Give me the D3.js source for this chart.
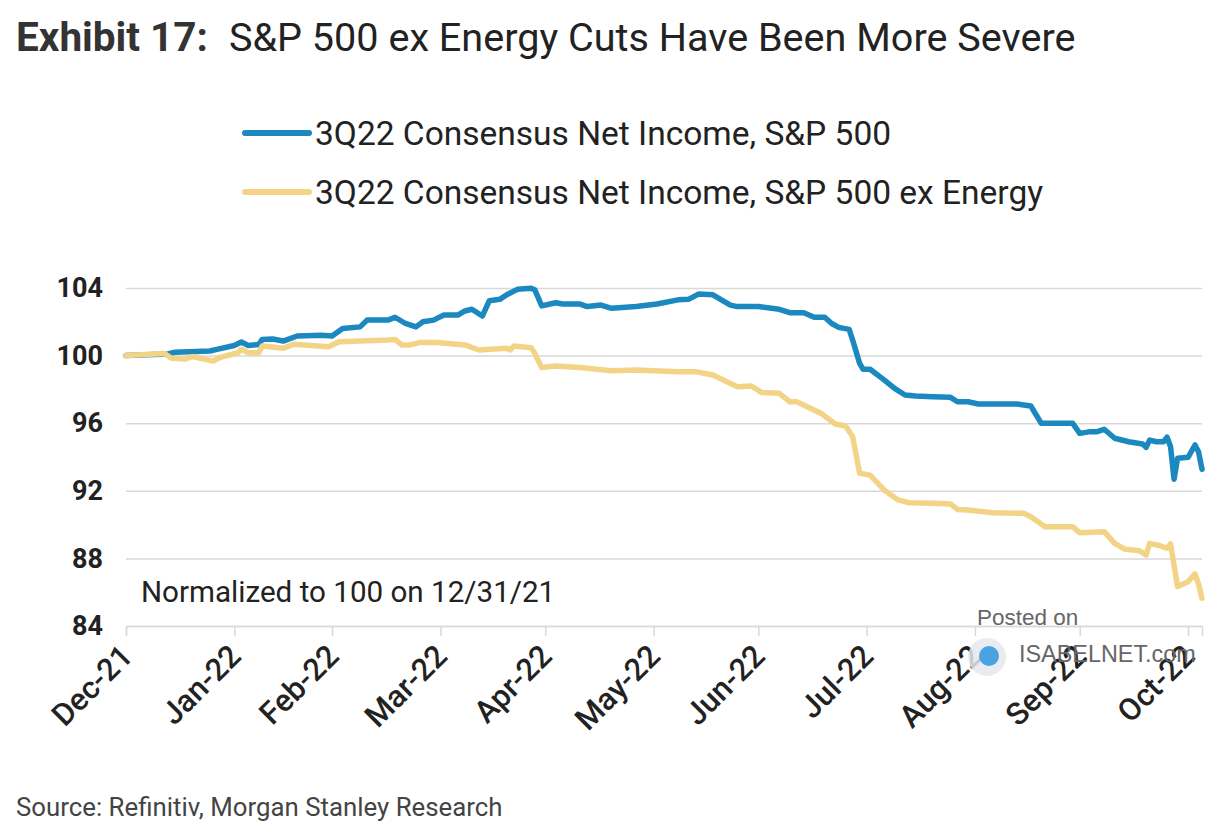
<!DOCTYPE html>
<html>
<head>
<meta charset="utf-8">
<script src="https://cdn.jsdelivr.net/npm/d3@7"></script>
<style>
  html, body { margin: 0; padding: 0; background: #fff; }
  svg { display: block; font-family: Roboto, "Liberation Sans", sans-serif; }
</style>
</head>
<body>
<svg id="chart" width="1223" height="840"></svg>
<script>
// ---------------- DATA ----------------
const titleBold = "Exhibit 17:";
const titleRest = "S&P 500 ex Energy Cuts Have Been More Severe";
const seriesNames = ["3Q22 Consensus Net Income, S&P 500", "3Q22 Consensus Net Income, S&P 500 ex Energy"];
const noteText = "Normalized to 100 on 12/31/21";
const sourceText = "Source: Refinitiv, Morgan Stanley Research";
const yTicks = [84, 88, 92, 96, 100, 104];
const xTickDates = ["2021-12-31","2022-01-31","2022-02-28","2022-03-31","2022-04-30","2022-05-31",
                    "2022-06-30","2022-07-31","2022-08-31","2022-09-30","2022-10-31"];
const xDomain = ["2021-12-31", "2022-11-04"];

const spxDates = ["2021-12-31","2022-01-12","2022-01-14","2022-01-24","2022-01-26","2022-01-31","2022-02-02","2022-02-04",
  "2022-02-07","2022-02-08","2022-02-11","2022-02-14","2022-02-18","2022-02-25","2022-02-28","2022-03-03","2022-03-08",
  "2022-03-10","2022-03-16","2022-03-18","2022-03-21","2022-03-24","2022-03-26","2022-03-29","2022-04-01","2022-04-05",
  "2022-04-07","2022-04-09","2022-04-12","2022-04-14","2022-04-17","2022-04-19","2022-04-22","2022-04-26","2022-04-27",
  "2022-04-29","2022-05-03","2022-05-05","2022-05-10","2022-05-12","2022-05-16","2022-05-19","2022-05-26","2022-06-01",
  "2022-06-07","2022-06-10","2022-06-13","2022-06-17","2022-06-22","2022-06-24","2022-06-30","2022-07-06","2022-07-09",
  "2022-07-13","2022-07-16","2022-07-19","2022-07-21","2022-07-23","2022-07-26","2022-07-27","2022-07-29","2022-07-30",
  "2022-08-01","2022-08-05","2022-08-08","2022-08-11","2022-08-14","2022-08-19","2022-08-24","2022-08-26","2022-08-29",
  "2022-09-01","2022-09-12","2022-09-16","2022-09-19","2022-09-28","2022-09-30","2022-10-03","2022-10-05","2022-10-07",
  "2022-10-10","2022-10-14","2022-10-18","2022-10-19","2022-10-20","2022-10-22","2022-10-24","2022-10-25","2022-10-26",
  "2022-10-27","2022-10-28","2022-10-31","2022-11-02","2022-11-03","2022-11-04"];
const spxValues = [100,100.1,100.2,100.27,100.37,100.6,100.8,100.6,
  100.65,100.96,100.98,100.86,101.16,101.2,101.16,101.6,101.7,
  102.1,102.1,102.27,101.9,101.7,102.0,102.1,102.4,102.4,
  102.64,102.74,102.34,103.25,103.33,103.6,103.92,103.98,103.9,
  102.94,103.13,103.05,103.05,102.9,102.99,102.8,102.9,103.05,
  103.3,103.33,103.65,103.6,102.99,102.9,102.9,102.74,102.54,
  102.54,102.27,102.27,101.9,101.67,101.55,100.92,99.54,99.19,
  99.19,98.56,98.06,97.67,97.61,97.57,97.53,97.27,97.27,
  97.14,97.14,97.02,95.99,95.99,95.4,95.5,95.5,95.64,
  95.11,94.9,94.77,94.57,95.0,94.9,94.9,95.17,94.61,
  92.68,93.92,93.98,94.71,94.31,93.27];

const exEnergyDates = ["2021-12-31","2022-01-11","2022-01-13","2022-01-17","2022-01-19","2022-01-25","2022-01-27","2022-02-01",
  "2022-02-02","2022-02-04","2022-02-07","2022-02-08","2022-02-14","2022-02-17","2022-02-27","2022-03-02","2022-03-16",
  "2022-03-18","2022-03-20","2022-03-22","2022-03-25","2022-03-30","2022-04-07","2022-04-11","2022-04-19","2022-04-20",
  "2022-04-21","2022-04-26","2022-04-27","2022-04-29","2022-05-03","2022-05-10","2022-05-19","2022-05-26","2022-06-07",
  "2022-06-12","2022-06-17","2022-06-24","2022-06-28","2022-07-01","2022-07-06","2022-07-09","2022-07-11","2022-07-18",
  "2022-07-22","2022-07-25","2022-07-27","2022-07-29","2022-08-01","2022-08-05","2022-08-09","2022-08-12","2022-08-19",
  "2022-08-24","2022-08-26","2022-08-29","2022-09-05","2022-09-14","2022-09-16","2022-09-20","2022-09-28","2022-09-30",
  "2022-10-07","2022-10-10","2022-10-13","2022-10-17","2022-10-19","2022-10-20","2022-10-23","2022-10-25","2022-10-26",
  "2022-10-28","2022-10-31","2022-11-02","2022-11-03","2022-11-04"];
const exEnergyValues = [100,100.13,99.84,99.8,99.94,99.68,99.9,100.17,
  100.37,100.17,100.17,100.57,100.43,100.67,100.53,100.82,100.92,
  100.95,100.63,100.63,100.77,100.77,100.63,100.33,100.43,100.33,
  100.57,100.47,100.13,99.3,99.38,99.3,99.1,99.15,99.05,
  99.05,98.85,98.16,98.2,97.81,97.77,97.27,97.27,96.58,
  95.95,95.83,95.2,93.04,92.93,92.05,91.46,91.3,91.26,
  91.22,90.9,90.87,90.7,90.67,90.47,89.88,89.88,89.52,
  89.58,88.89,88.54,88.46,88.2,88.89,88.75,88.6,88.85,
  86.33,86.62,87.08,86.49,85.64];

const colors = ["#1b88bf", "#f3d487"];

// ---------------- CHART ----------------
const parse = d3.timeParse("%Y-%m-%d");
const svg = d3.select("#chart");

const plot = { left: 126, right: 1202, top: 288, bottom: 626 };
const x = d3.scaleTime().domain(xDomain.map(parse)).range([plot.left, plot.right]);
const y = d3.scaleLinear().domain([84, 104]).range([plot.bottom, plot.top]);

// Title
const title = svg.append("text").attr("x", 16).attr("y", 51)
  .attr("font-size", 39.6).attr("fill", "#333");
title.append("tspan").attr("font-weight", "bold").attr("font-size", 40.5).text(titleBold);
title.append("tspan").attr("dx", 21).attr("fill", "#222").text(titleRest);

// Gridlines + y labels
const yAxis = d3.axisLeft(y).tickValues(yTicks).tickSize(-(plot.right - plot.left)).tickPadding(23)
  .tickFormat(d3.format("d"));
const gy = svg.append("g").attr("transform", `translate(${plot.left},0)`).call(yAxis);
gy.select(".domain").remove();
gy.selectAll(".tick line").attr("stroke", "#d9d9d9").attr("stroke-width", 1.5);
gy.selectAll(".tick text").attr("font-size", 27).attr("font-weight", "bold").attr("fill", "#222")
  .attr("font-family", "Roboto, sans-serif");

// X axis
const xAxis = d3.axisBottom(x).tickValues(xTickDates.map(parse)).tickSize(10)
  .tickFormat(d3.timeFormat("%b-%y"));
const gx = svg.append("g").attr("transform", `translate(0,${plot.bottom})`).call(xAxis);
gx.select(".domain").attr("stroke", "#d9d9d9").attr("stroke-width", 1.5);
gx.selectAll(".tick line").attr("stroke", "#d9d9d9").attr("stroke-width", 1.5);
gx.selectAll(".tick text").attr("font-size", 31).attr("fill", "#222")
  .attr("font-family", "Roboto, sans-serif").attr("font-weight", 500)
  .attr("text-anchor", "end").attr("dy", 0).attr("y", 0)
  .attr("transform", "translate(8,32) rotate(-45)");

// Note
svg.append("text").attr("x", 141).attr("y", 602).attr("font-size", 29.6).attr("fill", "#222").text(noteText);

// Lines
const line = d3.line().x(d => x(d.date)).y(d => y(d.value));
const spx = spxDates.map((d, i) => ({ date: parse(d), value: spxValues[i] }));
const exE = exEnergyDates.map((d, i) => ({ date: parse(d), value: exEnergyValues[i] }));
[spx, exE].forEach((data, i) => {
  svg.append("path").datum(data).attr("d", line).attr("fill", "none")
    .attr("stroke", colors[i]).attr("stroke-width", 5.5)
    .attr("stroke-linejoin", "round").attr("stroke-linecap", "round");
});

// Legend
const legendY = [133, 192];
seriesNames.forEach((name, i) => {
  svg.append("line").attr("x1", 245).attr("x2", 309).attr("y1", legendY[i]).attr("y2", legendY[i])
    .attr("stroke", colors[i]).attr("stroke-width", 6).attr("stroke-linecap", "round");
  svg.append("text").attr("x", 315).attr("y", legendY[i] + 12).attr("font-size", 33.5)
    .attr("fill", "#222").text(name);
});

// Watermark
const wm = svg.append("g").attr("fill", "#666").attr("font-family", "Liberation Sans, Arial, sans-serif");
wm.append("circle").attr("cx", 987).attr("cy", 657).attr("r", 19).attr("fill", "#e4e9ef").attr("opacity", 0.85);
wm.append("circle").attr("cx", 989).attr("cy", 656).attr("r", 10).attr("fill", "#4aa3e0");
wm.append("text").attr("x", 977).attr("y", 625).attr("font-size", 22.5).text("Posted on");
wm.append("text").attr("x", 1019).attr("y", 662).attr("font-size", 23.4).text("ISABELNET.com");

// Source
svg.append("text").attr("x", 16).attr("y", 816).attr("font-size", 25.8).attr("fill", "#444").text(sourceText);
</script>
</body>
</html>
